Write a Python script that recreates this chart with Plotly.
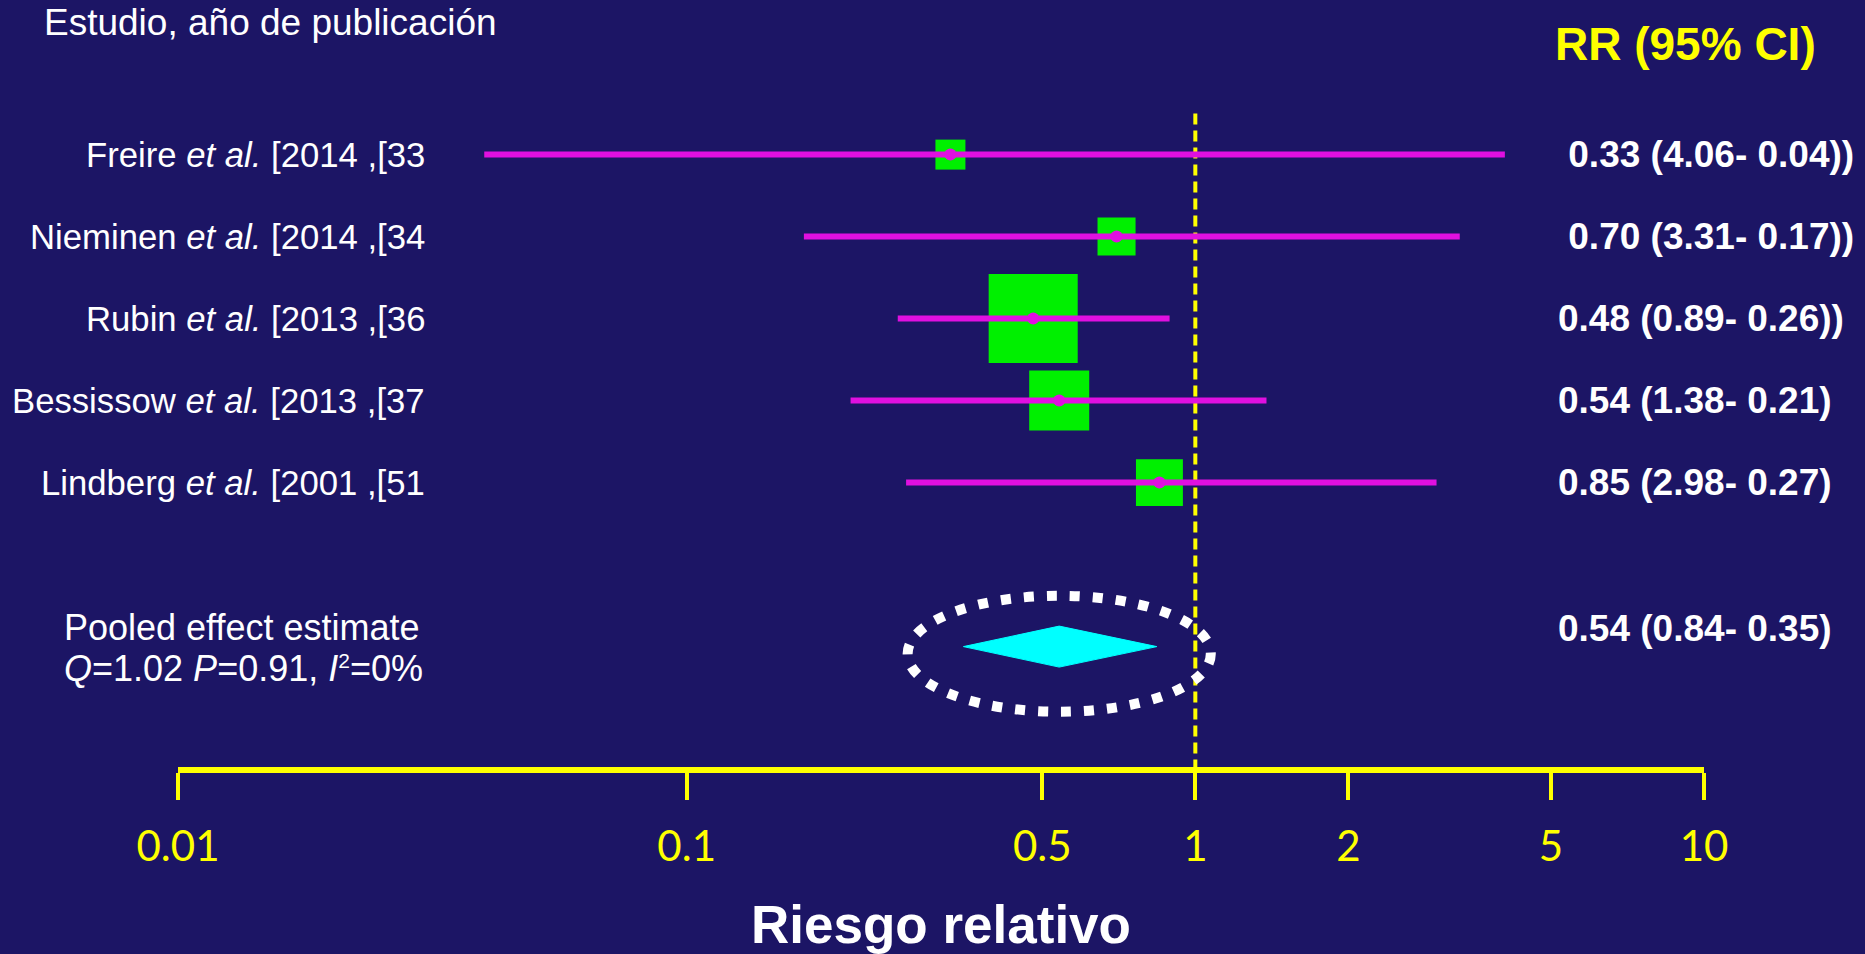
import math
import plotly.graph_objects as go

# ---- data -------------------------------------------------------------
studies = ["Freire", "Nieminen", "Rubin", "Bessissow", "Lindberg"]
years = [2014, 2014, 2013, 2013, 2001]
refs = [33, 34, 36, 37, 51]
rr = [0.33, 0.70, 0.48, 0.54, 0.85]
ci_low = [0.04, 0.17, 0.26, 0.21, 0.27]
ci_high = [4.06, 3.31, 0.89, 1.38, 2.98]
weights = [5.6, 9.0, 49.3, 22.4, 13.7]          # study weight, %
ci_labels = ["\u00a00.33 (4.06- 0.04))", "\u00a00.70 (3.31- 0.17))",
             "0.48 (0.89- 0.26))", "0.54 (1.38- 0.21)", "0.85 (2.98- 0.27)"]

pooled_rr = 0.54
pooled_low = 0.35
pooled_high = 0.84
pooled_label = "0.54 (0.84- 0.35)"
q_stat = "1.02"
p_value = "0.91"
i_squared = "0"

tick_vals = [0.01, 0.1, 0.5, 1, 2, 5, 10]
tick_text = ["0.01", "0.1", "0.5", "1", "2", "5", "10"]

# ---- styling ------------------------------------------------------------
BG = "#1c1565"
YELLOW = "#ffff00"
GREEN = "#00f000"
MAGENTA = "#e010e0"
CYAN = "#00ffff"
WHITE = "#ffffff"
SANS = "Liberation Sans, Arial, sans-serif"

FIG_W, FIG_H = 1865, 954
M_L, M_R, M_T, M_B = 178, 161, 0, 187
PLOT_W = FIG_W - M_L - M_R
PLOT_H = FIG_H - M_T - M_B

ROW0_PX, ROW_STEP = 154.6, 82.0          # vertical layout of the rows
y_top = (M_T - ROW0_PX) / ROW_STEP
y_bottom = (M_T + PLOT_H - ROW0_PX) / ROW_STEP

rows = list(range(len(studies)))
pooled_row = len(studies) + 1


def paper_x(px):
    return (px - M_L) / PLOT_W


def paper_y(py):
    return 1 - (py - M_T) / PLOT_H


fig = go.Figure()

# reference line at RR = 1
fig.add_trace(go.Scatter(
    x=[1, 1], y=[-0.5, y_bottom], mode="lines",
    line=dict(color=YELLOW, width=4, dash="11px,6px"),
    hoverinfo="skip", showlegend=False))

# weight boxes
box_scale = 12.68
fig.add_trace(go.Scatter(
    x=rr, y=rows, mode="markers",
    marker=dict(symbol="square", color=GREEN, opacity=1,
                size=[box_scale * math.sqrt(w) for w in weights],
                line=dict(width=0)),
    showlegend=False))

# confidence intervals
ci_x, ci_y = [], []
for lo, hi, r in zip(ci_low, ci_high, rows):
    ci_x += [lo, hi, None]
    ci_y += [r, r, None]
fig.add_trace(go.Scatter(
    x=ci_x, y=ci_y, mode="lines",
    line=dict(color=MAGENTA, width=6), showlegend=False))

# point estimates
fig.add_trace(go.Scatter(
    x=rr, y=rows, mode="markers",
    marker=dict(symbol="circle", color=MAGENTA, size=12, opacity=1,
                line=dict(width=0)),
    showlegend=False))

# pooled diamond
half_h = 0.25
fig.add_trace(go.Scatter(
    x=[pooled_low, pooled_rr, pooled_high, pooled_rr, pooled_low],
    y=[pooled_row, pooled_row - half_h, pooled_row, pooled_row + half_h, pooled_row],
    mode="lines", fill="toself", fillcolor=CYAN,
    line=dict(color=CYAN, width=1), showlegend=False))

# dotted ring highlighting the pooled estimate
ring_dx = 10 ** 0.298
fig.add_shape(
    type="circle", xref="x", yref="y",
    x0=pooled_rr / ring_dx, x1=pooled_rr * ring_dx,
    y0=pooled_row + 0.087 - 0.707, y1=pooled_row + 0.087 + 0.707,
    line=dict(color=WHITE, width=10, dash="10px,13px"), layer="above")

annotations = []

# headers
annotations.append(dict(
    text="Estudio, año de publicación", xref="paper", yref="paper",
    x=paper_x(42), y=paper_y(22.5), xanchor="left", yanchor="middle",
    showarrow=False, font=dict(family=SANS, size=37, color=WHITE)))
annotations.append(dict(
    text="<b>RR (95% CI)</b>", xref="paper", yref="paper",
    x=paper_x(1553), y=paper_y(44), xanchor="left", yanchor="middle",
    showarrow=False, font=dict(family=SANS, size=46, color=YELLOW)))

# study labels and their estimates
for name, yr, ref, lab, r in zip(studies, years, refs, ci_labels, rows):
    annotations.append(dict(
        text=f"{name} <i>et al.</i> [{yr} ,[{ref}", xref="paper", yref="y",
        x=paper_x(427), y=r, xanchor="right", yanchor="middle",
        showarrow=False, font=dict(family=SANS, size=34.7, color=WHITE)))
    annotations.append(dict(
        text=f"<b>{lab}</b>", xref="paper", yref="y",
        x=paper_x(1556), y=r, xanchor="left", yanchor="middle",
        showarrow=False, font=dict(family=SANS, size=37, color=WHITE)))

# pooled summary text
annotations.append(dict(
    text="Pooled effect estimate", xref="paper", yref="paper",
    x=paper_x(62), y=paper_y(627), xanchor="left", yanchor="middle",
    showarrow=False, font=dict(family=SANS, size=36, color=WHITE)))
annotations.append(dict(
    text=(f"<i>Q</i>={q_stat} <i>P</i>={p_value}, <i>I</i>"
          f"<span style='font-size:30px'><sup>2</sup></span>={i_squared}%"),
    xref="paper", yref="paper",
    x=paper_x(62), y=paper_y(668), xanchor="left", yanchor="middle",
    showarrow=False, font=dict(family=SANS, size=36, color=WHITE)))
annotations.append(dict(
    text=f"<b>{pooled_label}</b>", xref="paper", yref="paper",
    x=paper_x(1556), y=paper_y(628), xanchor="left", yanchor="middle",
    showarrow=False, font=dict(family=SANS, size=37, color=WHITE)))

# axis title
annotations.append(dict(
    text="<b>Riesgo relativo</b>", xref="paper", yref="paper",
    x=0.5, y=paper_y(924), xanchor="center", yanchor="middle",
    showarrow=False, font=dict(family=SANS, size=53, color=WHITE)))

fig.update_layout(
    width=FIG_W, height=FIG_H, autosize=False,
    margin=dict(l=M_L, r=M_R, t=M_T, b=M_B, pad=0),
    paper_bgcolor=BG, plot_bgcolor=BG,
    showlegend=False,
    annotations=annotations,
    xaxis=dict(
        type="log", range=[-2, 1], tickvals=tick_vals, ticktext=tick_text,
        showline=True, linecolor=YELLOW, linewidth=6,
        ticks="outside", ticklen=27, tickwidth=4, tickcolor=YELLOW,
        ticklabelstandoff=11,
        showgrid=False, zeroline=False, fixedrange=True,
        tickfont=dict(family="Lato, Carlito, sans-serif", size=42, color=YELLOW)),
    yaxis=dict(range=[y_bottom, y_top], visible=False, fixedrange=True),
)

fig.write_html("out.html")
